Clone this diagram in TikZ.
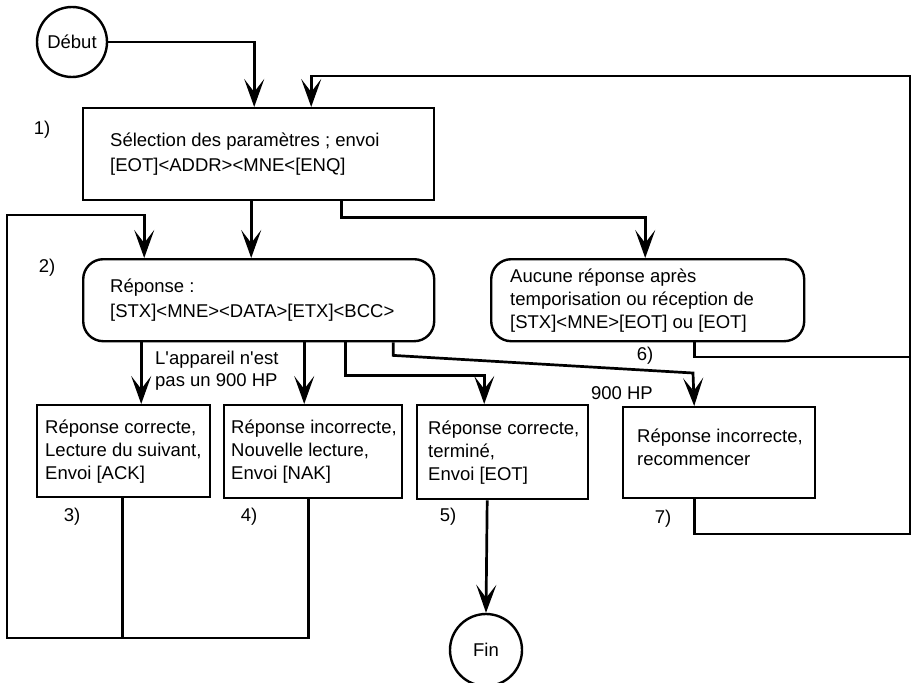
\documentclass[tikz,border=0pt]{standalone}
\usepackage{fontspec}
\setmainfont{Liberation Sans}
\newfontfamily\straightquotes{Liberation Sans}
\usetikzlibrary{arrows.meta}
\begin{document}
\begin{tikzpicture}[x=1pt,y=-1pt,
  every node/.style={font=\fontsize{18.5}{23}\selectfont},
  conn/.style={line width=2.7pt},
  arr/.style={conn, -{Stealth[length=28pt,width=20pt,inset=13pt]}},
  box/.style={draw, line width=2.4pt, anchor=north west, inner sep=0pt},
  rbox/.style={box, rounded corners=20pt},
  txt/.style={anchor=west, align=left, inner sep=0pt},
  wide/.style={font=\fontsize{18.5}{25}\selectfont},
  term/.style={draw, circle, line width=2.4pt, inner sep=0pt, minimum size=#1},
  num/.style={inner sep=0pt}
]
\useasboundingbox (0,0) rectangle (912,682);

% terminals
\node[term=70pt] (deb) at (72,42) {Début};
\node[term=72pt] (fin) at (486,650) {Fin};

% process boxes
\node[box, minimum width=351pt, minimum height=92pt] (b1) at (82,107) {};
\node[rbox, minimum width=351pt, minimum height=82pt] (b2) at (82,258) {};
\node[rbox, minimum width=313pt, minimum height=82pt] (b6) at (490,258) {};
\node[box, minimum width=173pt, minimum height=92pt] (b3) at (36,404) {};
\node[box, minimum width=178pt, minimum height=93pt] (b4) at (223,404) {};
\node[box, minimum width=171pt, minimum height=94pt] (b5) at (416,404) {};
\node[box, minimum width=192pt, minimum height=91pt] (b7) at (622,406) {};

% box texts
\node[txt, wide] (t1) at ([xshift=28pt]b1.west) {Sélection des paramètres ; envoi\\{}[EOT]<ADDR><MNE<[ENQ]};
\node[txt, wide] (t2) at ([xshift=28pt]b2.west) {Réponse :\\{}[STX]<MNE><DATA>[ETX]<BCC>};
\node[txt] (t6) at ([xshift=20pt]b6.west) {Aucune réponse après\\temporisation ou réception de\\{}[STX]<MNE>[EOT] ou [EOT]};
\node[txt] (t3) at ([xshift=9pt]b3.west) {Réponse correcte,\\Lecture du suivant,\\Envoi [ACK]};
\node[txt] (t4) at ([xshift=8pt]b4.west) {Réponse incorrecte,\\Nouvelle lecture,\\Envoi [NAK]};
\node[txt] (t5) at ([xshift=12pt]b5.west) {Réponse correcte,\\terminé,\\Envoi [EOT]};
\node[txt] (t7) at ([xshift=15pt,yshift=5pt]b7.west) {Réponse incorrecte,\\recommencer};

% step numbers and branch notes
\node[num] (l1) at (42,130) {1)};
\node[num] (l2) at (47,268) {2)};
\node[num] (l3) at (72,517) {3)};
\node[num] (l4) at (249,517) {4)};
\node[num] (l5) at (448,517) {5)};
\node[num] (l6) at (645,356) {6)};
\node[num] (l7) at (663,519) {7)};
\node[num] (hp) at (622,393) {900 HP};
\node[txt, font=\straightquotes\fontsize{18.5}{22}\selectfont] (nhp) at (155,371) {L'appareil n'est\\pas un 900 HP};

% junction points of the return loops
\coordinate (rtop) at (910,76);
\coordinate (rmid) at (910,357);
\coordinate (rbot) at (910,534);
\coordinate (lt) at (7,215);
\coordinate (lb) at (7,638);
\coordinate (sl) at (693,373);

% connectors
\draw[arr] (deb.east) -| ([xshift=-4.5pt]b1.north);
\draw[arr] ([xshift=-25pt]b7.south) |- (rbot) -- (rtop) -| ([xshift=52.5pt]b1.north);
\draw[conn] ([xshift=46.5pt]b6.south) |- (rmid);
\draw[arr] ([xshift=-7.5pt]b1.south) -- ([xshift=-7.5pt]b2.north);
\draw[arr] ([xshift=82.5pt]b1.south) -- ++(0,16) -| ([xshift=-2.5pt]b6.north);
\draw[arr] ([xshift=-1.5pt]b3.south) |- (lb) -- (lt) -| ([xshift=-114.5pt]b2.north);
\draw[conn] ([xshift=-5pt]b4.south) |- (lb);
\draw[arr] ([xshift=-117.5pt]b2.south) -- ([xshift=17.5pt]b3.north);
\draw[arr] ([xshift=45.5pt]b2.south) -- ([xshift=-9pt]b4.north);
\draw[arr] ([xshift=86.5pt]b2.south) -- ++(0,33) -| ([xshift=-18.5pt]b5.north);
\draw[arr] ([xshift=134.5pt]b2.south) -- ++(0,13) -- (sl) -- ([xshift=-25pt]b7.north);
\draw[arr] ([xshift=-15.5pt]b5.south) -- (fin.north);
\end{tikzpicture}
\end{document}
